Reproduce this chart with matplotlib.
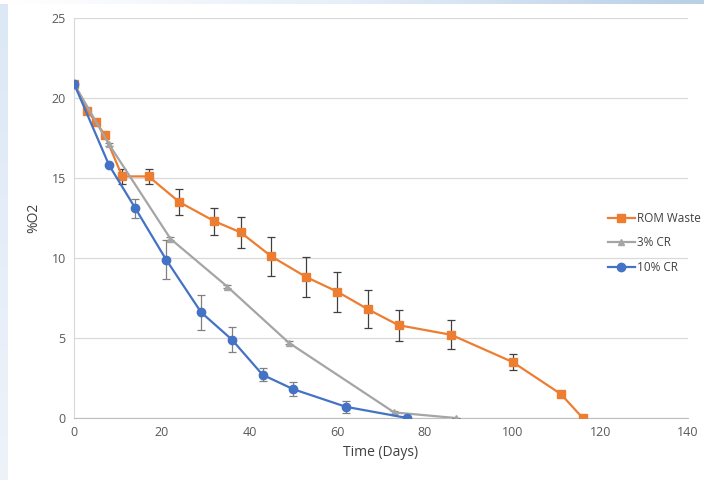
import matplotlib.pyplot as plt
import numpy as np
from matplotlib.colors import LinearSegmentedColormap
from matplotlib.lines import Line2D

# ROM Waste
rom_days = [0, 3, 5, 7, 11, 17, 24, 32, 38, 45, 53, 60, 67, 74, 86, 100, 111, 116]
rom_o2 = [20.9, 19.2, 18.5, 17.7, 15.1, 15.1, 13.5, 12.3, 11.6, 10.1, 8.8, 7.9, 6.8, 5.8, 5.2, 3.5, 1.5, 0.0]
rom_err = [0, 0.2, 0.2, 0.2, 0.45, 0.45, 0.8, 0.85, 0.95, 1.2, 1.25, 1.25, 1.2, 0.97, 0.9, 0.5, 0.2, 0]

# 3% CR
cr3_days = [0, 8, 22, 35, 49, 73, 87]
cr3_o2 = [20.9, 17.1, 11.2, 8.2, 4.7, 0.35, 0.0]
cr3_err = [0, 0.1, 0.1, 0.1, 0.1, 0.1, 0]

# 10% CR
cr10_days = [0, 8, 14, 21, 29, 36, 43, 50, 62, 76]
cr10_o2 = [20.9, 15.8, 13.1, 9.9, 6.6, 4.9, 2.7, 1.8, 0.7, 0.0]
cr10_err = [0, 0, 0.6, 1.2, 1.1, 0.8, 0.4, 0.45, 0.38, 0]

series = [
    ("ROM Waste", rom_days, rom_o2, rom_err, "#ED7D31", "s", 6, "#404040"),
    ("3% CR", cr3_days, cr3_o2, cr3_err, "#A5A5A5", "^", 5, "#808080"),
    ("10% CR", cr10_days, cr10_o2, cr10_err, "#4472C4", "o", 6, "#808080"),
]

plt.rcParams["font.family"] = ["Open Sans", "DejaVu Sans"]

fig = plt.figure(figsize=(7.04, 4.80), dpi=100)

# slide background strips
bg = fig.add_axes([0, 0, 1, 1], zorder=-5)
bg.set_axis_off()
bg.set_xlim(0, 1)
bg.set_ylim(0, 1)
grad = np.linspace(0, 1, 256).reshape(1, -1)
bg.imshow(grad, extent=[0, 1, 1 - 4 / 480, 1], aspect="auto",
          cmap=LinearSegmentedColormap.from_list("top", ["#ffffff", "#e6eef8", "#b8cfe6"]))
bg.imshow(grad.T, extent=[0, 8 / 704, 0, 1 - 4 / 480], aspect="auto",
          cmap=LinearSegmentedColormap.from_list("left", ["#dce8f5", "#eef3fa"]))

ax = fig.add_axes([74 / 704, 62 / 480, 614 / 704, 400 / 480])

handles = []
for label, x, y, err, color, marker, ms, ecolor in series:
    ax.errorbar(x, y, yerr=err, color=color, lw=1.6, marker=marker, ms=ms,
                ecolor=ecolor, elinewidth=0.9, capsize=3, capthick=0.9,
                zorder=3)
    handles.append(Line2D([], [], color=color, lw=1.6, marker=marker, ms=ms,
                          label=label))

ax.set_xlim(0, 140)
ax.set_ylim(0, 25)
ax.set_xticks(range(0, 141, 20))
ax.set_yticks(range(0, 26, 5))
ax.grid(axis="y", color="#D9D9D9", lw=0.9)
ax.set_axisbelow(True)
ax.tick_params(length=0, labelsize=9, colors="#595959", pad=6)
for side in ["top", "right"]:
    ax.spines[side].set_visible(False)
ax.spines["left"].set_color("#D9D9D9")
ax.spines["bottom"].set_color("#BFBFBF")

ax.set_xlabel("Time (Days)", fontsize=10, color="#404040", labelpad=4)
ax.set_ylabel("%O2", fontsize=10, color="#404040", labelpad=7)

fig.legend(handles=handles, loc="center left",
           bbox_to_anchor=(597 / 704, 1 - 243 / 480), frameon=False,
           fontsize=8.5, labelcolor="#404040", handlelength=2.3,
           handletextpad=0.15, labelspacing=1.0)

fig.savefig("out.png", dpi=100)
